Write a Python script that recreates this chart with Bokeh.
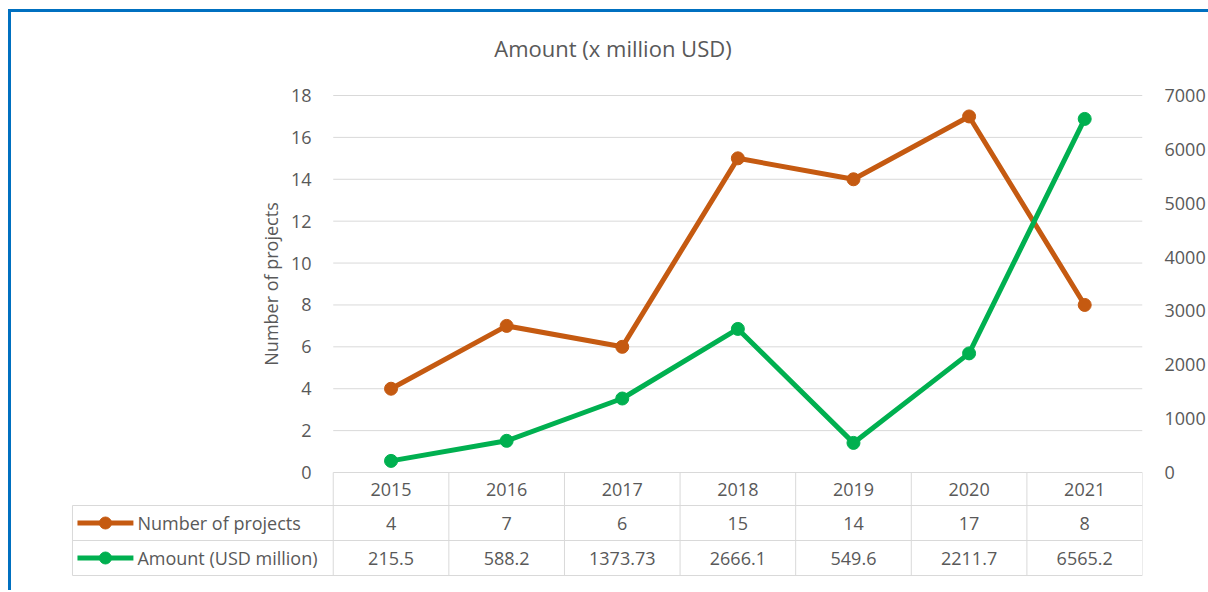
import math
from bokeh.plotting import figure
from bokeh.models import Range1d, LinearAxis, FixedTicker
from bokeh.layouts import column
from bokeh.embed import file_html
from bokeh.resources import INLINE
from bokeh.core.properties import value

# ---------------- data ----------------
years = ["2015", "2016", "2017", "2018", "2019", "2020", "2021"]
num_projects = [4, 7, 6, 15, 14, 17, 8]
amount_usd_m = [215.5, 588.2, 1373.73, 2666.1, 549.6, 2211.7, 6565.2]
amount_labels = ["215.5", "588.2", "1373.73", "2666.1", "549.6", "2211.7", "6565.2"]
left_ticks = [0, 2, 4, 6, 8, 10, 12, 14, 16, 18]
right_ticks = [0, 1000, 2000, 3000, 4000, 5000, 6000, 7000]
series_names = ["Number of projects", "Amount (USD million)"]
title_text = "Amount (x million USD)"
left_axis_title = "Number of projects"

# ---------------- style ----------------
FONT = "Open Sans"
TXT = "#595959"
GRID = "#D9D9D9"
ORANGE = "#C55A11"
GREEN = "#00B050"
BLUE = "#0070C0"
FS = "18px"

# ---------------- layout (page pixels) ----------------
OX, OY = 11, 12                 # canvas origin on page
W, H = 1197, 578                # canvas size
FRAME_L = 40                    # frame left (page); frame spans table legend column too
PLOT_L, PLOT_R = 333, 1143      # plot area left/right (page)
PLOT_T, ZERO_Y = 95, 472        # top gridline / zero line (page)
LEFT_LABEL_R = 311              # right edge of left tick labels (page)
ncat = len(years)
l_max = max(left_ticks)
r_max = max(right_ticks)
PX = (PLOT_R - PLOT_L) / ncat
PY = (ZERO_Y - PLOT_T) / l_max


def ux(px):
    return (px - PLOT_L) / PX


def uy(py):
    return (ZERO_Y - py) / PY


y_start, y_end = uy(OY + H), uy(OY)
xs = [i + 0.5 for i in range(ncat)]
bounds = list(range(ncat + 1))

p = figure(width=W, height=H, x_range=Range1d(ux(FRAME_L), ncat), y_range=Range1d(y_start, y_end),
           x_axis_location=None, toolbar_location=None, output_backend="svg",
           min_border_left=FRAME_L - OX, min_border_right=W - (PLOT_R - OX),
           min_border_top=0, min_border_bottom=0)
p.outline_line_color = None
p.background_fill_color = "white"
p.border_fill_color = "white"
p.xgrid.visible = False
p.ygrid.visible = False

ya = p.yaxis[0]
ya.ticker = FixedTicker(ticks=left_ticks)
ya.axis_line_color = None
ya.major_tick_line_color = None
ya.minor_tick_line_color = None
ya.major_tick_out = 0
ya.major_tick_in = 0
ya.major_label_text_font = FONT
ya.major_label_text_font_size = FS
ya.major_label_text_color = TXT
ya.major_label_standoff = -(LEFT_LABEL_R - FRAME_L)

p.extra_y_ranges = {"amt": Range1d(y_start * r_max / l_max, y_end * r_max / l_max)}
ra = LinearAxis(y_range_name="amt", ticker=FixedTicker(ticks=right_ticks))
ra.axis_line_color = None
ra.major_tick_line_color = None
ra.minor_tick_line_color = None
ra.major_tick_out = 0
ra.major_tick_in = 0
ra.major_label_text_font = FONT
ra.major_label_text_font_size = FS
ra.major_label_text_color = TXT
ra.major_label_standoff = 22
p.add_layout(ra, "right")

# horizontal gridlines over the plot area
p.segment(x0=[0] * len(left_ticks), y0=left_ticks, x1=[ncat] * len(left_ticks), y1=left_ticks,
          line_color=GRID, line_width=1)

# title and left axis title
p.text(x=[ux(613)], y=[uy(47)], text=[title_text], text_align="center", text_baseline="middle",
       text_font=value(FONT), text_font_size="22px", text_color=TXT)
p.text(x=[ux(271)], y=[l_max / 2], text=[left_axis_title], angle=math.pi / 2,
       text_align="center", text_baseline="middle", text_font=value(FONT),
       text_font_size=FS, text_color=TXT)

# ---------------- data table ----------------
row_lines = [uy(505), uy(540), uy(575)]
p.segment(x0=bounds, y0=[0] * len(bounds), x1=bounds, y1=[row_lines[-1]] * len(bounds),
          line_color=GRID, line_width=1)
p.segment(x0=[ux(72)] * 3, y0=row_lines, x1=[ncat] * 3, y1=row_lines,
          line_color=GRID, line_width=1)
p.segment(x0=[ux(72)], y0=[row_lines[0]], x1=[ux(72)], y1=[row_lines[-1]],
          line_color=GRID, line_width=1)

tkw = dict(text_font=value(FONT), text_font_size=FS, text_color=TXT,
           text_align="center", text_baseline="middle")
row_y = [uy(522.5), uy(557.5)]
p.text(x=xs, y=[uy(488.5)] * ncat, text=years, **tkw)
p.text(x=xs, y=[row_y[0]] * ncat, text=[str(v) for v in num_projects], **tkw)
p.text(x=xs, y=[row_y[1]] * ncat, text=amount_labels, **tkw)

# legend keys inside the table
for ry, col in zip(row_y, [ORANGE, GREEN]):
    p.line([ux(77), ux(133)], [ry, ry], line_color=col, line_width=5)
    p.scatter([ux(105)], [ry], size=12, fill_color=col, line_color=col)
p.text(x=[ux(137)] * 2, y=row_y, text=series_names, text_font=value(FONT), text_font_size=FS,
       text_color=TXT, text_align="left", text_baseline="middle")

# ---------------- series ----------------
p.line(xs, num_projects, line_color=ORANGE, line_width=5, line_join="round")
p.scatter(xs, num_projects, size=13, fill_color=ORANGE, line_color=ORANGE)
p.line(xs, amount_usd_m, y_range_name="amt", line_color=GREEN, line_width=5, line_join="round")
p.scatter(xs, amount_usd_m, y_range_name="amt", size=13, fill_color=GREEN, line_color=GREEN)

layout = column(p)
layout.styles = {"margin-left": "8px", "margin-top": "9px",
                 "border-top": "3px solid " + BLUE, "border-left": "3px solid " + BLUE}

open("out.html", "w").write(file_html(layout, INLINE))
